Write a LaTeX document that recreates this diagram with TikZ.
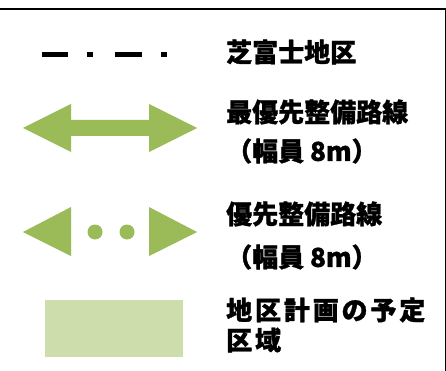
\documentclass[tikz,border=0pt]{standalone}
\usepackage{fontspec}
\newfontfamily\cjk{Noto Sans CJK JP}
\definecolor{arrgreen}{HTML}{9BBB59}
\definecolor{areagreen}{HTML}{CDDDAC}
\tikzset{
  lbl/.style={anchor=west, inner sep=0pt, font=\cjk\bfseries\fontsize{26}{28}\selectfont\addfontfeature{FakeBold=1.2}},
  lblsp/.style={anchor=west, inner sep=0pt, font=\cjk\bfseries\fontsize{26}{28}\selectfont\addfontfeature{FakeBold=1.2,LetterSpace=11}},
  arrfill/.style={fill=arrgreen, draw=none},
}
\begin{document}
\begin{tikzpicture}[x=1pt,y=-1pt]
\useasboundingbox (0,0) rectangle (446,371);
% frame lines
\draw[line width=2.5pt] (0,9) -- (446,9);
\draw[line width=1pt] (445.5,9) -- (445.5,371);
% dash-dot boundary sample
\draw[line width=5.5pt] (42,54.5) -- (68,54.5);
\draw[line width=5.5pt] (87,54.5) -- (93,54.5);
\draw[line width=5.5pt] (115,54.5) -- (142,54.5);
\draw[line width=5.5pt] (161,54.5) -- (167,54.5);
\node[lbl] (t1) at (226,52) {芝富士地区};
% double arrow
\fill[arrfill] (23,128) -- (71,104) -- (71,120) -- (149,120) -- (149,104) -- (197,128)
  -- (149,152) -- (149,136) -- (71,136) -- (71,152) -- cycle;
\node[lbl] (t2) at (226,112) {最優先整備路線};
\node[lbl] (t3) at (226,151) {（幅員 8m）};
% dotted arrow
\fill[arrfill] (23,232) -- (71,207) -- (71,256) -- cycle;
\fill[arrfill] (197,232) -- (149,207) -- (149,256) -- cycle;
\fill[arrgreen] (95,232) circle (7.5);
\fill[arrgreen] (127,232) circle (7.5);
\node[lbl] (t4) at (226,214) {優先整備路線};
\node[lbl] (t5) at (226,257) {（幅員 8m）};
% planned area
\fill[areagreen] (45,300) rectangle (183,357);
\node[lblsp] (t6) at (226,310) {地区計画の予定};
\node[lblsp] (t7) at (226,340) {区域};
\end{tikzpicture}
\end{document}
